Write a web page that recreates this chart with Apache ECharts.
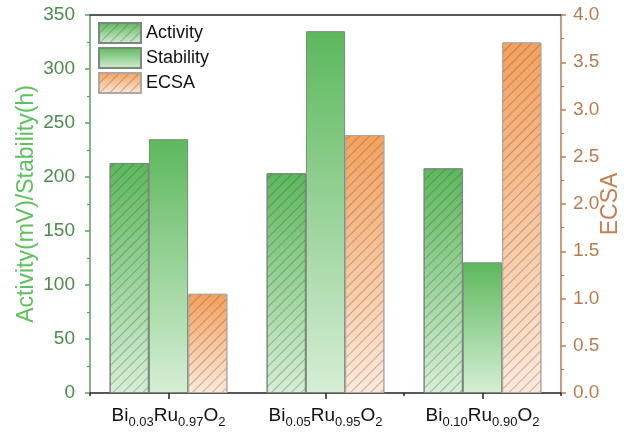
<!DOCTYPE html>
<html><head><meta charset="utf-8">
<script src="https://cdn.jsdelivr.net/npm/echarts@6/dist/echarts.min.js"></script>
<style>html,body{margin:0;padding:0;background:#fff}#c{width:629px;height:436px}</style>
</head><body><div id="c"></div>
<script>
var categories = ['Bi{s|0.03}Ru{s|0.97}O{s|2}', 'Bi{s|0.05}Ru{s|0.95}O{s|2}', 'Bi{s|0.10}Ru{s|0.90}O{s|2}'];
var activity = [213, 203.5, 208];
var stability = [235, 335, 121];
var ecsa = [1.05, 2.73, 3.71];
var leftTicks = [0, 350, 50];
var rightTicks = [0, 4.0, 0.5];

var FONT = 'Liberation Sans, Arial, sans-serif';
function grad(top, bottom) {
  return {type:'linear', x:0, y:0, x2:0, y2:1, colorStops:[{offset:0,color:top},{offset:1,color:bottom}]};
}
var hatch = {symbol:'rect', symbolSize:1, dashArrayX:[1,0], dashArrayY:[1,6], rotation:-Math.PI/4, color:'rgba(60,60,60,0.32)'};
var green = grad('#5cb85c', '#d6eed6');
var orange = grad('#f5a05c', '#fde9da');

var chart = echarts.init(document.getElementById('c'));
chart.setOption({
  animation:false,
  textStyle:{fontFamily:FONT},
  grid:{left:90, right:68, top:15, bottom:43, containLabel:false, outerBoundsMode:'none'},
  legend:{
    left:93, top:17, orient:'vertical', itemWidth:42, itemHeight:20, itemGap:3, icon:'rect',
    textStyle:{fontSize:18, color:'#111', fontFamily:FONT},
    data:['Activity','Stability','ECSA']
  },
  xAxis:[
    {type:'category', data:categories, position:'bottom',
     axisLine:{lineStyle:{color:'#222', width:1.5}},
     axisTick:{show:true, alignWithLabel:true, length:6, lineStyle:{color:'#222', width:1.5}},
     axisLabel:{interval:0, margin:10, color:'#111', fontSize:19, lineHeight:26, fontFamily:FONT,
       rich:{s:{fontSize:13, fontFamily:FONT, color:'#111', verticalAlign:'bottom'}}}},
    {type:'category', data:categories, position:'bottom',
     axisLine:{show:false}, axisLabel:{show:false},
     axisTick:{show:true, length:3, lineStyle:{color:'#222', width:1.5}}},
    {type:'category', data:categories, position:'top',
     axisLine:{lineStyle:{color:'#222', width:1.5}}, axisTick:{show:false}, axisLabel:{show:false}}
  ],
  yAxis:[
    {type:'value', min:leftTicks[0], max:leftTicks[1], interval:leftTicks[2], position:'left',
     name:'Activity(mV)/Stability(h)', nameLocation:'middle', nameGap:52, nameMoveOverlap:false,
     nameTextStyle:{color:'#5ec05e', fontSize:23, fontFamily:FONT},
     axisLine:{show:true, lineStyle:{color:'#5a9e5a', width:1.5}},
     axisTick:{show:true, length:5, lineStyle:{color:'#5a9e5a', width:1.5}},
     minorTick:{show:true, splitNumber:2, length:3, lineStyle:{color:'#5a9e5a', width:1.2}},
     splitLine:{show:false},
     axisLabel:{color:'#4a8c4a', fontSize:19, margin:15, fontFamily:FONT}},
    {type:'value', min:rightTicks[0], max:rightTicks[1], interval:rightTicks[2], position:'right',
     name:'ECSA', nameLocation:'middle', nameGap:38, nameMoveOverlap:false,
     nameTextStyle:{color:'#c48050', fontSize:23, fontFamily:FONT},
     axisLine:{show:true, lineStyle:{color:'#b97c50', width:1.5}},
     axisTick:{show:true, length:5, lineStyle:{color:'#b97c50', width:1.5}},
     minorTick:{show:true, splitNumber:2, length:3, lineStyle:{color:'#b97c50', width:1.2}},
     splitLine:{show:false},
     axisLabel:{color:'#b97c50', fontSize:19, margin:12, fontFamily:FONT,
       formatter:function(v){return v.toFixed(1);}}}
  ],
  series:[
    {name:'Activity', type:'bar', data:activity, yAxisIndex:0, barGap:'0%', barCategoryGap:'25%',
     itemStyle:{color:green, borderColor:'#7a8a7a', borderWidth:1, decal:hatch}},
    {name:'Stability', type:'bar', data:stability, yAxisIndex:0,
     itemStyle:{color:green, borderColor:'#7a8a7a', borderWidth:1}},
    {name:'ECSA', type:'bar', data:ecsa, yAxisIndex:1,
     itemStyle:{color:orange, borderColor:'#b0a8a0', borderWidth:1, decal:hatch}}
  ]
});
</script></body></html>
